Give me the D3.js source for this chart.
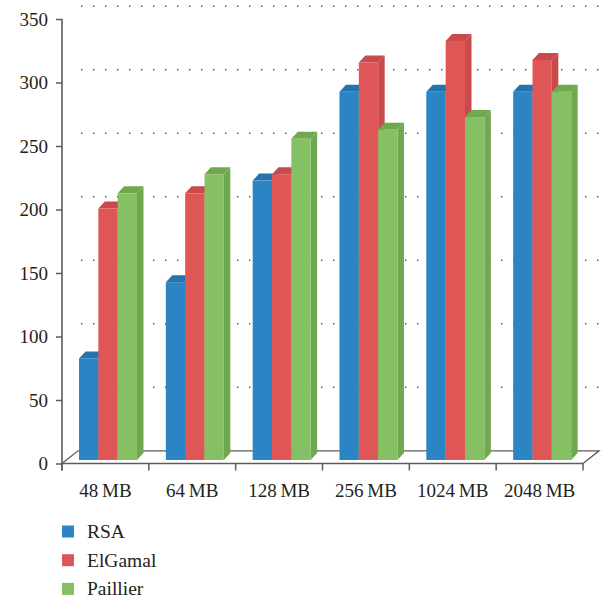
<!DOCTYPE html>
<html>
<head>
<meta charset="utf-8">
<script src="https://cdn.jsdelivr.net/npm/d3@7"></script>
<style>
  html, body { margin: 0; padding: 0; background: #fff; }
  svg text { font-family: "Liberation Serif", "DejaVu Serif", serif; fill: #231f20; }
</style>
</head>
<body>
<svg id="chart" width="608" height="603"></svg>
<script>
// Data
const categories = ["48\u2009MB", "64\u2009MB", "128\u2009MB", "256\u2009MB", "1024\u2009MB", "2048\u2009MB"];
const seriesNames = ["RSA", "ElGamal", "Paillier"];
const rsaValues = [80, 140, 220, 290, 290, 290];
const elgamalValues = [198, 210, 225, 313, 330, 315];
const paillierValues = [210, 225, 253, 260, 270, 290];
const yTicks = [0, 50, 100, 150, 200, 250, 300, 350];

const seriesValues = [rsaValues, elgamalValues, paillierValues];
const palette = [
  { front: "#2b84c4", top: "#2473ad", side: "#2473ad" },
  { front: "#df5656", top: "#c84a4a", side: "#c84a4a" },
  { front: "#86c064", top: "#70a850", side: "#70a850" }
];

const svg = d3.select("#chart");

// Scales
const x = d3.scaleBand().domain(categories).range([62, 583]);
const inner = d3.scaleBand().domain(seriesNames).range([17, 75]);
const y = d3.scaleLinear().domain([0, 350]).range([463.5, 19]);

// 3D depth of the floor / back wall, and of each bar
const floorDx = 16, floorDy = 12.7;
const barDx = 6.5, barDy = 7;
const barLift = 3.5;
const axisColor = "#5c5c5c";

// Dotted gridlines on the back wall
svg.append("g").selectAll("line")
  .data(yTicks.filter(v => v > 0))
  .join("line")
  .attr("x1", 72).attr("x2", 600)
  .attr("y1", d => y(d) - floorDy).attr("y2", d => y(d) - floorDy)
  .attr("stroke", "#555").attr("stroke-width", 1.6)
  .attr("stroke-dasharray", "1.4,10.6")
  .attr("stroke-dashoffset", -9);

// Floor outline
const floor = svg.append("g").attr("stroke", axisColor).attr("stroke-width", 1.3).attr("fill", "none");
floor.append("path")
  .attr("d", `M${x.range()[0]},${y(0)} L${x.range()[0] + floorDx},${y(0) - floorDy} L${x.range()[1] + floorDx},${y(0) - floorDy} L${x.range()[1]},${y(0)}`);

// Bars
const bars = svg.append("g");
categories.forEach((cat, ci) => {
  seriesNames.forEach((s, si) => {
    const v = seriesValues[si][ci];
    const x0 = x(cat) + inner(s);
    const w = inner.bandwidth();
    const yb = y(0) - barLift;
    const yt = y(v) - barLift;
    const c = palette[si];
    const g = bars.append("g");
    // side face
    g.append("path")
      .attr("d", `M${x0 + w},${yt} L${x0 + w + barDx},${yt - barDy} L${x0 + w + barDx},${yb - barDy} L${x0 + w},${yb} Z`)
      .attr("fill", c.side);
    // top face
    g.append("path")
      .attr("d", `M${x0},${yt} L${x0 + barDx},${yt - barDy} L${x0 + w + barDx},${yt - barDy} L${x0 + w},${yt} Z`)
      .attr("fill", c.top);
    // front face
    g.append("rect")
      .attr("x", x0).attr("y", yt)
      .attr("width", w).attr("height", yb - yt)
      .attr("fill", c.front);
  });
});

// Front floor edge (x axis) with ticks at category boundaries
const xAxisG = svg.append("g").attr("stroke", axisColor).attr("stroke-width", 1.5);
xAxisG.append("line")
  .attr("x1", x.range()[0]).attr("x2", x.range()[1])
  .attr("y1", y(0)).attr("y2", y(0));
const boundaries = categories.map(c => x(c)).concat([x.range()[1]]);
xAxisG.selectAll("line.tick")
  .data(boundaries)
  .join("line").attr("class", "tick")
  .attr("x1", d => d).attr("x2", d => d)
  .attr("y1", y(0)).attr("y2", y(0) + 7);

// Category labels
svg.append("g").selectAll("text")
  .data(categories)
  .join("text")
  .attr("x", d => x(d) + x.bandwidth() / 2)
  .attr("y", 497)
  .attr("text-anchor", "middle")
  .attr("font-size", 19)
  .text(d => d);

// Y axis
const yAxis = d3.axisLeft(y).tickValues(yTicks).tickSize(6).tickSizeOuter(0).tickPadding(8);
const yAxisG = svg.append("g").attr("transform", `translate(${x.range()[0]},0)`).call(yAxis);
yAxisG.select(".domain").remove();
yAxisG.selectAll(".tick line").attr("stroke", axisColor).attr("stroke-width", 1.5);
yAxisG.selectAll(".tick text")
  .attr("font-size", 19)
  .attr("font-family", "Liberation Serif, DejaVu Serif, serif")
  .attr("fill", "#231f20");
yAxisG.append("line")
  .attr("x1", 0).attr("x2", 0)
  .attr("y1", y(350)).attr("y2", y(0) + 7)
  .attr("stroke", axisColor).attr("stroke-width", 1.6);

// Legend
const legend = svg.append("g").selectAll("g")
  .data(seriesNames)
  .join("g")
  .attr("transform", (d, i) => `translate(62, ${531.5 + i * 28.7})`);
legend.append("rect")
  .attr("x", 0).attr("y", -6).attr("width", 12).attr("height", 12)
  .attr("fill", (d, i) => palette[i].front);
legend.append("text")
  .attr("x", 25).attr("y", 6.5)
  .attr("font-size", 19.5)
  .text(d => d);
</script>
</body>
</html>
